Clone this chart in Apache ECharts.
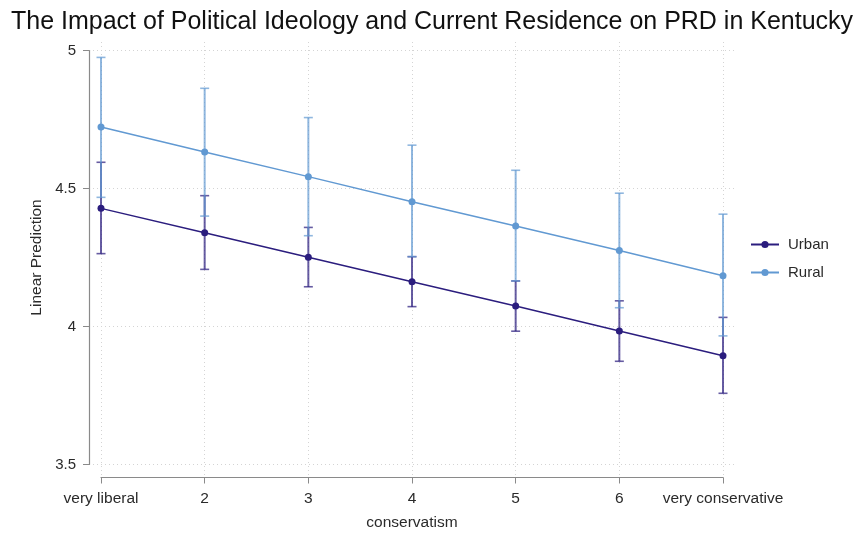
<!DOCTYPE html>
<html>
<head>
<meta charset="utf-8">
<script src="https://cdn.jsdelivr.net/npm/echarts@6/dist/echarts.min.js"></script>
<style>
  html, body { margin: 0; padding: 0; background: #fff; overflow: hidden; }
  #chart { width: 859px; height: 533px; }
</style>
</head>
<body>
<div id="chart"></div>
<script>
// Conservatism levels (1 = very liberal ... 7 = very conservative)
const xLevels = [1, 2, 3, 4, 5, 6, 7];
const tickLabels = ['very liberal', '2', '3', '4', '5', '6', 'very conservative'];

// Linear predictions with confidence bounds
const urbanPred  = [4.428, 4.340, 4.251, 4.162, 4.074, 3.984, 3.894];
const urbanLow   = [4.264, 4.207, 4.144, 4.072, 3.983, 3.874, 3.758];
const urbanHigh  = [4.595, 4.474, 4.359, 4.253, 4.165, 4.093, 4.033];

const ruralPred  = [4.723, 4.632, 4.543, 4.452, 4.364, 4.275, 4.184];
const ruralLow   = [4.468, 4.400, 4.329, 4.253, 4.165, 4.068, 3.966];
const ruralHigh  = [4.975, 4.863, 4.757, 4.657, 4.566, 4.483, 4.407];

const yTicks = [3.5, 4, 4.5, 5];

const URBAN = '#2b1d7e';
const RURAL = '#6199d2';
const FONT = 'Liberation Sans, Arial, sans-serif';
const TEXT = '#2a2a2a';

const chart = echarts.init(document.getElementById('chart'), null, { renderer: 'canvas', width: 859, height: 533 });

function pairs(xs, ys) { return xs.map((x, i) => [x, ys[i]]); }
function bars(xs, lo, hi) { return xs.map((x, i) => [x, lo[i], hi[i]]); }

function errorBar(color, opacity) {
  return function (params, api) {
    const x = api.value(0);
    const top = api.coord([x, api.value(2)]);
    const bot = api.coord([x, api.value(1)]);
    const hw = 4.5;
    const style = { stroke: color, lineWidth: 1.6, opacity: opacity };
    return {
      type: 'group',
      children: [
        { type: 'line', shape: { x1: top[0], y1: top[1], x2: bot[0], y2: bot[1] }, style: Object.assign({}, style, { lineWidth: 2 }) },
        { type: 'line', shape: { x1: top[0] - hw, y1: top[1], x2: top[0] + hw, y2: top[1] }, style: style },
        { type: 'line', shape: { x1: bot[0] - hw, y1: bot[1], x2: bot[0] + hw, y2: bot[1] }, style: style }
      ]
    };
  };
}

const dotted = { show: true, lineStyle: { color: '#d4d4d4', type: [1, 3], width: 1 } };

const option = {
  animation: false,
  backgroundColor: '#fff',
  textStyle: { fontFamily: FONT },
  title: {
    text: 'The Impact of Political Ideology and Current Residence on PRD in Kentucky',
    left: 6, top: 5,
    textStyle: { fontFamily: FONT, fontSize: 25, fontWeight: 'normal', color: '#111' }
  },
  legend: {
    orient: 'vertical',
    left: 745, top: 232,
    itemWidth: 28, itemHeight: 9, itemGap: 13,
    data: ['Urban', 'Rural'],
    textStyle: { fontFamily: FONT, fontSize: 15, color: TEXT, padding: [0, 0, 0, 4] }
  },
  grid: [
    // data area
    { left: 101, right: 136, top: 50.5, bottom: 68.5, outerBoundsMode: 'none' },
    // horizontal reference lines
    { left: 89, right: 124, top: 50.5, bottom: 68.5, outerBoundsMode: 'none' },
    // vertical reference lines
    { left: 101, right: 136, top: 42, bottom: 58, outerBoundsMode: 'none' }
  ],
  xAxis: [
    {
      gridIndex: 0, type: 'value', min: 1, max: 7, interval: 1,
      offset: 13,
      axisLine: { show: true, lineStyle: { color: '#8a8a8a', width: 1.2 } },
      axisTick: { show: true, length: 6, lineStyle: { color: '#8a8a8a' } },
      axisLabel: {
        show: true, margin: 13, color: TEXT, fontSize: 15.5, fontFamily: FONT,
        formatter: v => tickLabels[xLevels.indexOf(v)] || ''
      },
      splitLine: { show: false },
      name: 'conservatism', nameLocation: 'middle', nameGap: 37,
      nameTextStyle: { fontFamily: FONT, fontSize: 15.5, color: TEXT }
    },
    { gridIndex: 1, type: 'value', min: 1, max: 7, show: false },
    {
      gridIndex: 2, type: 'value', min: 1, max: 7, interval: 1,
      axisLine: { show: false }, axisTick: { show: false }, axisLabel: { show: false },
      splitLine: dotted
    }
  ],
  yAxis: [
    {
      gridIndex: 0, type: 'value', min: 3.5, max: 5, interval: 0.5,
      offset: 12,
      axisLine: { show: true, lineStyle: { color: '#8a8a8a', width: 1.2 } },
      axisTick: { show: true, length: 6, lineStyle: { color: '#8a8a8a' } },
      axisLabel: {
        show: true, margin: 13, color: TEXT, fontSize: 15, fontFamily: FONT,
        formatter: v => (yTicks.indexOf(v) >= 0 ? String(v) : '')
      },
      splitLine: { show: false },
      name: 'Linear Prediction', nameLocation: 'middle', nameGap: 40,
      nameTextStyle: { fontFamily: FONT, fontSize: 15.5, color: TEXT }
    },
    {
      gridIndex: 1, type: 'value', min: 3.5, max: 5, interval: 0.5,
      axisLine: { show: false }, axisTick: { show: false }, axisLabel: { show: false },
      splitLine: dotted
    },
    { gridIndex: 2, type: 'value', min: 0, max: 1, show: false }
  ],
  series: [
    {
      name: 'UrbanCI', type: 'custom', xAxisIndex: 0, yAxisIndex: 0,
      data: bars(xLevels, urbanLow, urbanHigh),
      renderItem: errorBar(URBAN, 0.72), silent: true, z: 2
    },
    {
      name: 'Urban', type: 'line', xAxisIndex: 0, yAxisIndex: 0,
      data: pairs(xLevels, urbanPred),
      symbol: 'circle', symbolSize: 7,
      lineStyle: { color: URBAN, width: 1.5 },
      itemStyle: { color: URBAN },
      z: 3
    },
    {
      name: 'RuralCI', type: 'custom', xAxisIndex: 0, yAxisIndex: 0,
      data: bars(xLevels, ruralLow, ruralHigh),
      renderItem: errorBar(RURAL, 0.7), silent: true, z: 4
    },
    {
      name: 'Rural', type: 'line', xAxisIndex: 0, yAxisIndex: 0,
      data: pairs(xLevels, ruralPred),
      symbol: 'circle', symbolSize: 7,
      lineStyle: { color: RURAL, width: 1.5 },
      itemStyle: { color: RURAL },
      z: 5
    }
  ]
};

chart.setOption(option);
</script>
</body>
</html>
